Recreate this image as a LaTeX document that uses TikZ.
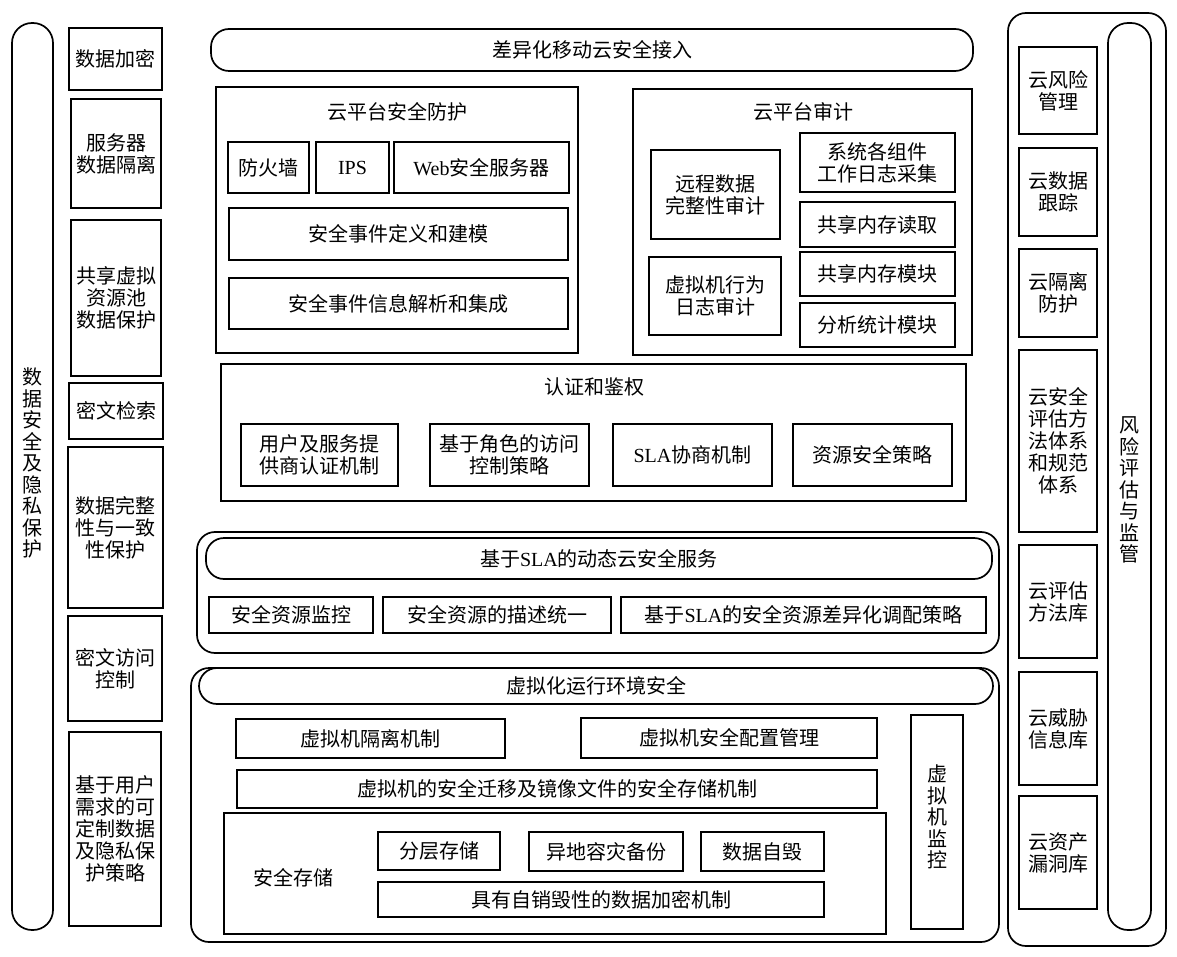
\documentclass[tikz,border=0pt]{standalone}
\usepackage{fontspec}
\setmainfont{Noto Sans CJK SC}
\newfontfamily\lat{Liberation Serif}
\tikzset{
  box/.style={draw, line width=1.7pt, inner sep=0pt, outer sep=0pt, align=center,
    font=\fontsize{20}{22}\selectfont},
  lbl/.style={inner sep=0pt, align=center, font=\fontsize{20}{22}\selectfont},
  vlbl/.style={inner sep=0pt, align=center, font=\fontsize{20}{21.5}\selectfont},
  rnd/.style={rounded corners=18pt},
  pill/.style={rounded corners=20pt}
}
\newcommand\bx[7][]{\node[box,#1, minimum width={(#5-#3)*1pt}, minimum height={(#6-#4)*1pt}] (#2) at ({(#3+#5)/2},{(#4+#6)/2}) {#7};}
\begin{document}
\begin{tikzpicture}[x=1pt,y=-1pt]
\useasboundingbox[fill=white] (0,0) rectangle (1177,957);

% left pill
\bx[pill]{lpill}{12}{23}{53}{930}{}
\node[vlbl] (ltxt) at (33,463) {数\\据\\安\\全\\及\\隐\\私\\保\\护};

% left column
\bx{l1}{69}{28}{162}{90}{数据加密}
\bx{l2}{71}{99}{161}{208}{服务器\\数据隔离}
\bx{l3}{71}{220}{161}{376}{共享虚拟\\资源池\\数据保护}
\bx{l4}{69}{383}{163}{439}{密文检索}
\bx{l5}{68}{447}{163}{608}{数据完整\\性与一致\\性保护}
\bx{l6}{68}{616}{162}{721}{密文访问\\控制}
\bx{l7}{69}{732}{161}{926}{基于用户\\需求的可\\定制数据\\及隐私保\\护策略}

% top bar
\bx[rnd]{top}{211}{29}{973}{71}{差异化移动云安全接入}

% cloud platform protection
\bx{cpp}{216}{87}{578}{353}{}
\node[lbl] (cppt) at (397,112) {云平台安全防护};
\bx{fw}{228}{142}{309}{193}{防火墙}
\bx{ips}{316}{142}{389}{193}{\lat IPS}
\bx{web}{394}{142}{569}{193}{{\lat Web}安全服务器}
\bx{sed}{229}{208}{568}{260}{安全事件定义和建模}
\bx{sei}{229}{278}{568}{329}{安全事件信息解析和集成}

% cloud audit
\bx{aud}{633}{89}{972}{355}{}
\node[lbl] (audt) at (803,112) {云平台审计};
\bx{rdi}{651}{150}{780}{239}{远程数据\\完整性审计}
\bx{vmb}{649}{257}{781}{335}{虚拟机行为\\日志审计}
\bx{sys}{800}{133}{955}{192}{系统各组件\\工作日志采集}
\bx{smr}{800}{202}{955}{247}{共享内存读取}
\bx{smm}{800}{252}{955}{296}{共享内存模块}
\bx{ana}{800}{303}{955}{347}{分析统计模块}

% authentication
\bx{auth}{221}{364}{966}{501}{}
\node[lbl] (autht) at (594,387) {认证和鉴权};
\bx{a1}{241}{424}{398}{486}{用户及服务提\\供商认证机制}
\bx{a2}{430}{424}{589}{486}{基于角色的访问\\控制策略}
\bx{a3}{613}{424}{772}{486}{{\lat SLA}协商机制}
\bx{a4}{793}{424}{952}{486}{资源安全策略}

% SLA service
\bx[rnd]{sla}{197}{532}{999}{653}{}
\bx[rnd]{slat}{206}{538}{992}{579}{基于{\lat SLA}的动态云安全服务}
\bx{s1}{209}{597}{373}{633}{安全资源监控}
\bx{s2}{383}{597}{611}{633}{安全资源的描述统一}
\bx{s3}{621}{597}{986}{633}{基于{\lat SLA}的安全资源差异化调配策略}

% virtualization
\bx[rnd]{virt}{191}{668}{999}{942}{}
\bx[rnd]{virtt}{199}{668}{993}{704}{虚拟化运行环境安全}
\bx{v1}{236}{719}{505}{758}{虚拟机隔离机制}
\bx{v2}{581}{718}{877}{758}{虚拟机安全配置管理}
\bx{v3}{237}{770}{877}{808}{虚拟机的安全迁移及镜像文件的安全存储机制}
\bx{st}{224}{813}{886}{934}{}
\node[lbl] (stt) at (293,878) {安全存储};
\bx{st1}{378}{832}{500}{870}{分层存储}
\bx{st2}{529}{832}{683}{871}{异地容灾备份}
\bx{st3}{701}{832}{824}{871}{数据自毁}
\bx{st4}{378}{882}{824}{917}{具有自销毁性的数据加密机制}
\bx{vmm}{911}{715}{963}{929}{}
\node[vlbl] (vmmt) at (937,817) {虚\\拟\\机\\监\\控};

% right
\bx[rnd]{rout}{1008}{13}{1166}{946}{}
\bx[pill]{rpill}{1108}{23}{1151}{930}{}
\node[vlbl] (rtxt) at (1129,490) {风\\险\\评\\估\\与\\监\\管};
\bx{r1}{1019}{47}{1097}{134}{云风险\\管理}
\bx{r2}{1019}{148}{1097}{236}{云数据\\跟踪}
\bx{r3}{1019}{249}{1097}{337}{云隔离\\防护}
\bx{r4}{1019}{350}{1097}{532}{云安全\\评估方\\法体系\\和规范\\体系}
\bx{r5}{1019}{545}{1097}{658}{云评估\\方法库}
\bx{r6}{1019}{672}{1097}{785}{云威胁\\信息库}
\bx{r7}{1019}{796}{1097}{909}{云资产\\漏洞库}
\end{tikzpicture}
\end{document}
